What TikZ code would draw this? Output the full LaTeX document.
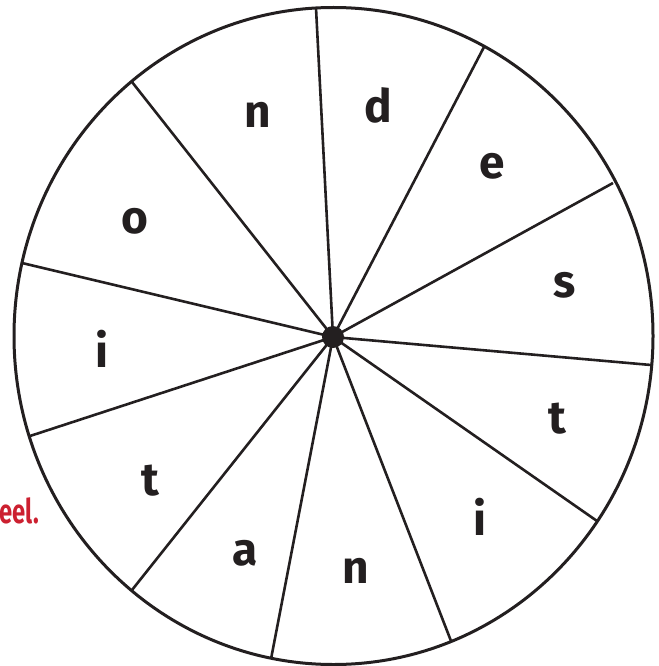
\documentclass[tikz,border=0pt]{standalone}
\usepackage{fontspec}
\setmainfont{Fira Sans}
\usepackage{tikz}
\definecolor{WheelInk}{HTML}{231F20}
\definecolor{TaskRed}{HTML}{CC2030}

\begin{document}
\begin{tikzpicture}[x=1pt,y=-1pt,
    spoke/.style={WheelInk,line width=2.6pt},
    letter/.style={WheelInk,font=\fontsize{46}{46}\selectfont\bfseries,anchor=base}]
  \useasboundingbox (0,0) rectangle (658,666);
  \clip (0,0) rectangle (658,666);

  % task text at the page edge
  \node[TaskRed,font=\fontsize{34}{34}\selectfont\bfseries,anchor=base east,inner sep=0pt]
    (task) at (39,523) {\scalebox{0.7}[1]{eel.}};

  % rim
  \draw[WheelInk,line width=3pt] (333.5,336) ellipse (319.5 and 328.5);

  % spokes
  \coordinate (hub) at (333,337);
  \foreach \x/\y in {316/8,484/47,613/183,651/365,597/521,451/641,
                     271/659,132/590,30/436,22/263,132/82}
    \draw[spoke] (hub) -- (\x,\y);
  \fill[WheelInk] (hub) circle (11);

  % letters
  \foreach \x/\y/\l [count=\i] in {378/123/d,492/178/e,565/297/s,557/433/t,
                                  480/535/i,356/583/n,245/565/a,150/495/t,
                                  102/367/i,135/233/o,258/128/n}
    \node[letter,inner sep=0pt] (l\i) at (\x,\y) {\l};
\end{tikzpicture}
\end{document}
